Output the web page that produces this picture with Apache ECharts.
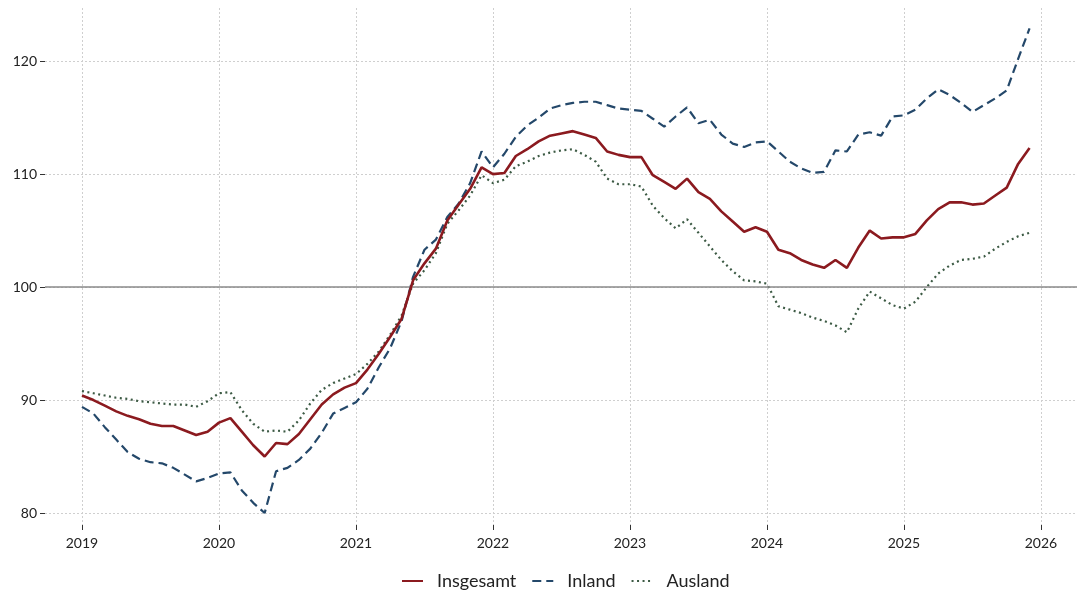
<!DOCTYPE html>
<html>
<head>
<meta charset="utf-8">
<script src="https://cdn.jsdelivr.net/npm/echarts@6/dist/echarts.min.js"></script>
<style>
html,body{margin:0;padding:0;background:#fff;}
#chart{width:1077px;height:590px;}
</style>
</head>
<body>
<div id="chart"></div>
<script>
// Monthly data Jan 2019 – Dec 2025
const years = [2019, 2020, 2021, 2022, 2023, 2024, 2025];
const xTickLabels = [2019, 2020, 2021, 2022, 2023, 2024, 2025, 2026];
const yTickLabels = [80, 90, 100, 110, 120];
const seriesNames = ['Insgesamt', 'Inland', 'Ausland'];

const insgesamt = [
  90.4, 90.0, 89.5, 89.0, 88.6, 88.3, 87.9, 87.7, 87.7, 87.3, 86.9, 87.2,
  88.0, 88.4, 87.2, 86.0, 85.0, 86.2, 86.1, 87.0, 88.3, 89.6, 90.5, 91.1,
  91.5, 92.7, 94.1, 95.6, 97.2, 100.6, 102.1, 103.4, 105.9, 107.3, 108.7, 110.6,
  110.0, 110.1, 111.6, 112.2, 112.9, 113.4, 113.6, 113.8, 113.5, 113.2, 112.0, 111.7,
  111.5, 111.5, 109.9, 109.3, 108.7, 109.6, 108.4, 107.8, 106.7, 105.8, 104.9, 105.3,
  104.9, 103.3, 103.0, 102.4, 102.0, 101.7, 102.4, 101.7, 103.5, 105.0, 104.3, 104.4,
  104.4, 104.7, 105.9, 106.9, 107.5, 107.5, 107.3, 107.4, 108.1, 108.8, 110.9, 112.3
];
const inland = [
  89.4, 88.8, 87.6, 86.5, 85.4, 84.8, 84.5, 84.4, 84.0, 83.4, 82.8, 83.1,
  83.5, 83.6, 82.0, 80.9, 80.0, 83.7, 84.0, 84.7, 85.7, 87.1, 88.8, 89.3,
  89.8, 91.0, 92.9, 94.6, 97.0, 100.9, 103.3, 104.2, 106.2, 107.4, 109.2, 112.0,
  110.6, 111.8, 113.3, 114.3, 115.0, 115.8, 116.1, 116.3, 116.4, 116.4, 116.1, 115.8,
  115.7, 115.6, 114.9, 114.2, 115.1, 115.9, 114.5, 114.8, 113.5, 112.7, 112.4, 112.8,
  112.9, 112.0, 111.1, 110.5, 110.1, 110.2, 112.1, 112.0, 113.5, 113.7, 113.4, 115.1,
  115.2, 115.7, 116.7, 117.5, 117.0, 116.3, 115.5, 116.1, 116.7, 117.4, 120.2, 122.9
];
const ausland = [
  90.8, 90.6, 90.4, 90.2, 90.1, 89.9, 89.8, 89.7, 89.6, 89.6, 89.4, 89.9,
  90.6, 90.7, 89.1, 87.9, 87.2, 87.3, 87.2, 88.2, 89.7, 90.9, 91.5, 91.9,
  92.3, 93.2, 94.3, 95.8, 97.5, 100.3, 101.5, 103.0, 105.6, 106.8, 108.1, 109.9,
  109.2, 109.5, 110.7, 111.1, 111.6, 111.9, 112.1, 112.2, 111.7, 111.1, 109.6, 109.1,
  109.1, 108.9, 107.2, 106.1, 105.2, 106.0, 104.8, 103.6, 102.4, 101.4, 100.6, 100.5,
  100.3, 98.3, 98.0, 97.7, 97.3, 97.0, 96.6, 96.0, 98.1, 99.6, 99.0, 98.4,
  98.1, 98.7, 100.0, 101.2, 101.9, 102.4, 102.5, 102.7, 103.4, 104.0, 104.5, 104.8
];

// month positions (year + fraction)
const monthPos = [];
years.forEach(function (y) { for (let m = 0; m < 12; m++) monthPos.push(y + m / 12); });
function pairs(vals) { return vals.map(function (v, i) { return [monthPos[i], v]; }); }

const chart = echarts.init(document.getElementById('chart'), null, {renderer: 'canvas'});
const font = 'Lato, "Open Sans", sans-serif';
const gridLine = {show: true, lineStyle: {color: '#cfcfcf', width: 1, type: [2, 2]}};

chart.setOption({
  animation: false,
  backgroundColor: '#ffffff',
  textStyle: {fontFamily: font},
  grid: {left: 45, right: 0, top: 8, bottom: 65, containLabel: false},
  xAxis: {
    type: 'value',
    min: 2018.73,
    max: 2026.263,
    axisLine: {show: false},
    axisTick: {show: true, length: 5, customValues: xTickLabels, lineStyle: {color: '#333', width: 1}},
    axisLabel: {customValues: xTickLabels, color: '#222', fontSize: 14, margin: 11, fontFamily: font,
      formatter: function (v) { return String(Math.round(v)); }},
    splitLine: gridLine
  },
  yAxis: {
    type: 'value',
    min: 78.94,
    max: 124.7,
    axisLine: {show: false},
    axisTick: {show: true, length: 5, customValues: yTickLabels, lineStyle: {color: '#333', width: 1}},
    axisLabel: {customValues: yTickLabels, color: '#222', fontSize: 14, margin: 8, fontFamily: font},
    splitLine: gridLine
  },
  legend: {
    top: 567,
    left: 396,
    itemWidth: 21,
    itemHeight: 14,
    itemGap: 15,
    itemStyle: {opacity: 0},
    textStyle: {fontSize: 18, color: '#222', fontFamily: font, padding: [0, 0, 0, 9]},
    data: seriesNames
  },
  series: [
    {
      name: seriesNames[0], type: 'line', data: pairs(insgesamt), showSymbol: false, symbol: 'none',
      lineStyle: {color: '#8b1a1f', width: 2.6}, itemStyle: {color: '#8b1a1f'}, z: 5,
      markLine: {
        silent: true, symbol: 'none', label: {show: false},
        lineStyle: {color: '#8a8a8a', width: 1.5, type: 'solid'},
        data: [{yAxis: 100}]
      }
    },
    {
      name: seriesNames[1], type: 'line', data: pairs(inland), showSymbol: false, symbol: 'none',
      lineStyle: {color: '#24486a', width: 2.2, type: [9, 5]}, itemStyle: {color: '#24486a'}, z: 4
    },
    {
      name: seriesNames[2], type: 'line', data: pairs(ausland), showSymbol: false, symbol: 'none',
      lineStyle: {color: '#3c5a44', width: 2.2, type: [2, 3.5]}, itemStyle: {color: '#3c5a44'}, z: 3
    }
  ]
});
</script>
</body>
</html>
